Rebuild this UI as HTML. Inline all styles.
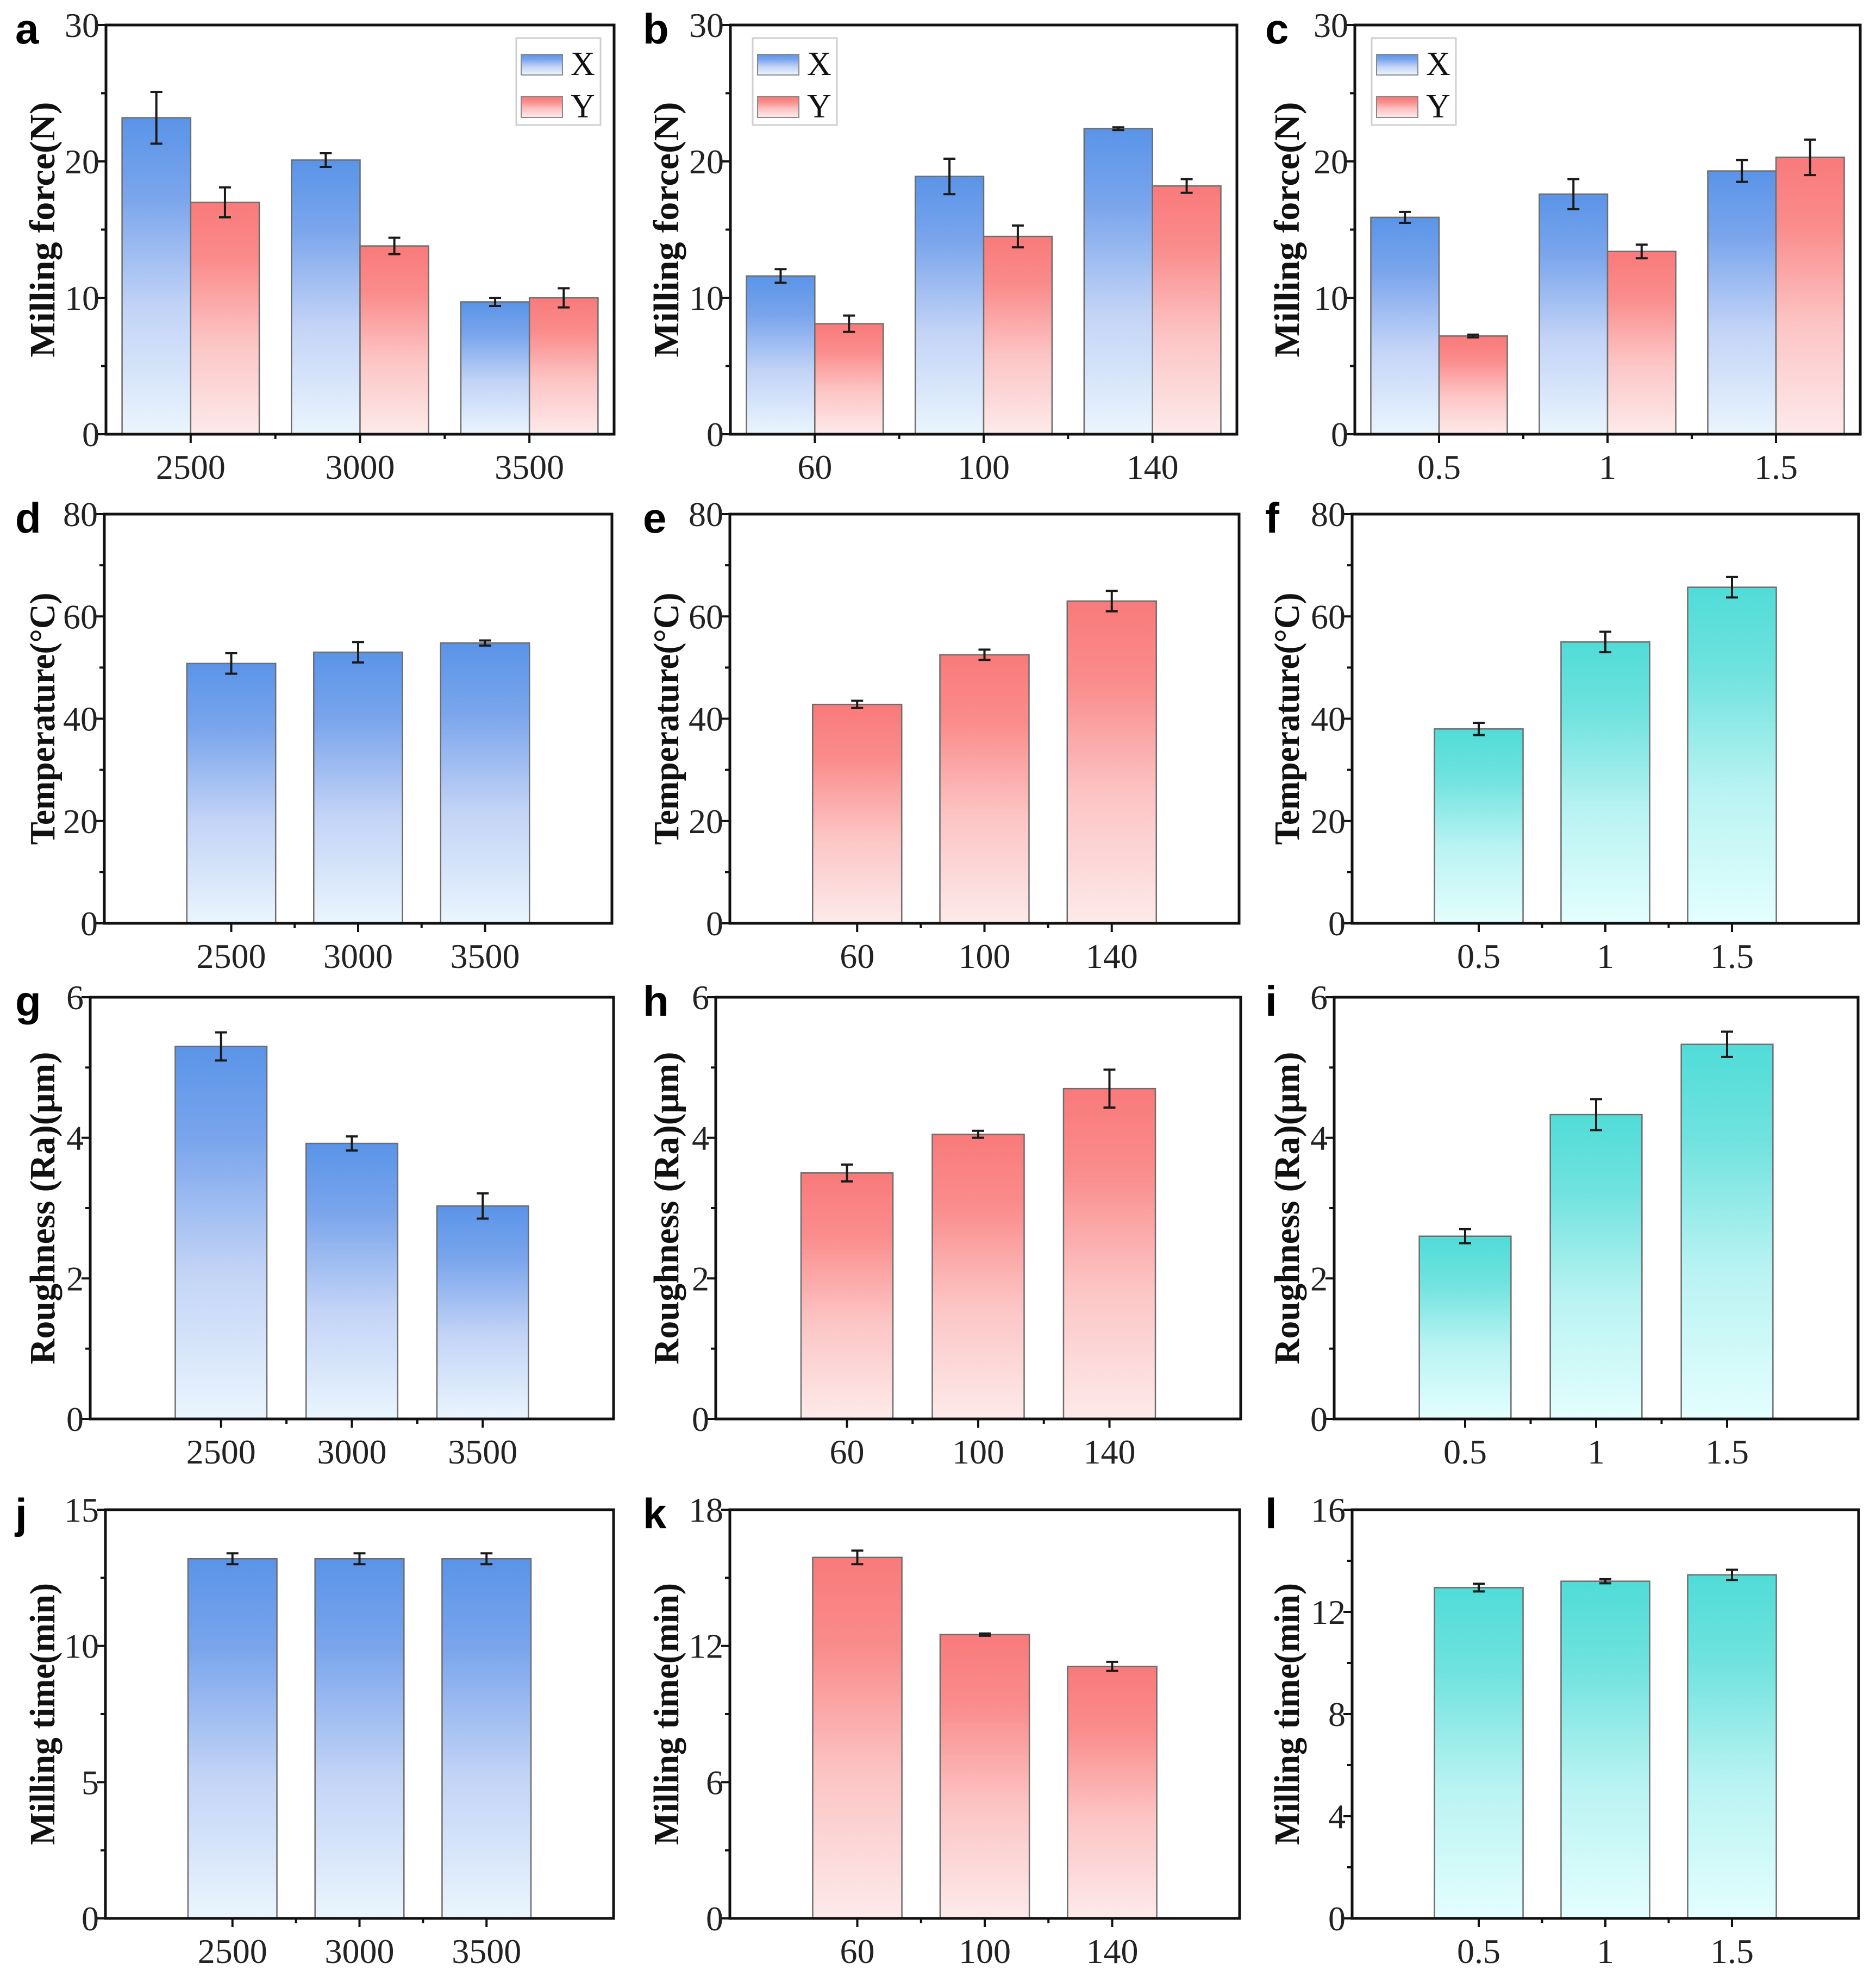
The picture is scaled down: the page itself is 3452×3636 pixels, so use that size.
<!DOCTYPE html>
<html><head><meta charset="utf-8">
<style>
html,body{margin:0;padding:0;background:#fff;}
svg{display:block;}
text{font-family:"Liberation Serif","DejaVu Serif",serif;}
</style></head>
<body>
<svg id="fig" xmlns="http://www.w3.org/2000/svg" width="3452" height="3636" viewBox="0 0 3452 3636">
<defs>
<linearGradient id="gBlue" x1="0" y1="0" x2="0" y2="1"><stop offset="0" stop-color="#5a94e8"/><stop offset="0.25" stop-color="#7aa5ec"/><stop offset="0.6" stop-color="#c2d3f6"/><stop offset="1" stop-color="#eaf5fd"/></linearGradient>
<linearGradient id="gRed" x1="0" y1="0" x2="0" y2="1"><stop offset="0" stop-color="#f97a7a"/><stop offset="0.25" stop-color="#fa8c8c"/><stop offset="0.6" stop-color="#fcc4c4"/><stop offset="1" stop-color="#fdeaea"/></linearGradient>
<linearGradient id="gCyan" x1="0" y1="0" x2="0" y2="1"><stop offset="0" stop-color="#50dcd8"/><stop offset="0.25" stop-color="#6fe2de"/><stop offset="0.6" stop-color="#b8f3f2"/><stop offset="1" stop-color="#e4fefe"/></linearGradient>
</defs>
</svg>
<script>
// ---- data ----
const speedCats=['2500','3000','3500'];
const feedCats=['60','100','140'];
const depthCats=['0.5','1','1.5'];
const aX=[23.2,20.1,9.7]; const aXErr=[1.9,0.5,0.3];
const aY=[17.0,13.8,10.0]; const aYErr=[1.1,0.6,0.7];
const bX=[11.6,18.9,22.4]; const bXErr=[0.5,1.3,0.1];
const bY=[8.1,14.5,18.2]; const bYErr=[0.6,0.8,0.5];
const cX=[15.9,17.6,19.3]; const cXErr=[0.4,1.1,0.8];
const cY=[7.2,13.4,20.3]; const cYErr=[0.1,0.5,1.3];
const dVals=[50.8,53.0,54.8]; const dErr=[2.0,2.0,0.5];
const eVals=[42.8,52.5,63.0]; const eErr=[0.7,1.0,2.0];
const fVals=[38.0,55.0,65.7]; const fErr=[1.2,2.0,2.0];
const gVals=[5.3,3.92,3.03]; const gErr=[0.2,0.1,0.18];
const hVals=[3.5,4.05,4.7]; const hErr=[0.12,0.05,0.27];
const iVals=[2.6,4.33,5.33]; const iErr=[0.1,0.22,0.18];
const jVals=[13.2,13.2,13.2]; const jErr=[0.2,0.2,0.2];
const kVals=[15.9,12.5,11.1]; const kErr=[0.3,0.05,0.2];
const lVals=[12.95,13.2,13.45]; const lErr=[0.15,0.08,0.2];
const forceTicks=[0,10,20,30];
const tempTicks=[0,20,40,60,80];
const roughTicks=[0,2,4,6];
const jTicks=[0,5,10,15];
const kTicks=[0,6,12,18];
const lTicks=[0,4,8,12,16];

// ---- layout ----
const panels=[
 {id:'a',L:195,R:1130,T:46,B:799,col:0,cats:speedCats,ticks:forceTicks,label:'Milling force(N)',labLen:470,
  series:[{v:aX,e:aXErr,f:'url(#gBlue)',n:'X'},{v:aY,e:aYErr,f:'url(#gRed)',n:'Y'}],legend:'right'},
 {id:'b',L:1344,R:2276,T:46,B:799,col:1,cats:feedCats,ticks:forceTicks,label:'Milling force(N)',labLen:470,
  series:[{v:bX,e:bXErr,f:'url(#gBlue)',n:'X'},{v:bY,e:bYErr,f:'url(#gRed)',n:'Y'}],legend:'left',lgOff:41},
 {id:'c',L:2493,R:3423,T:46,B:799,col:2,cats:depthCats,ticks:forceTicks,label:'Milling force(N)',labLen:470,
  series:[{v:cX,e:cXErr,f:'url(#gBlue)',n:'X'},{v:cY,e:cYErr,f:'url(#gRed)',n:'Y'}],legend:'left',lgOff:31},
 {id:'d',L:192,R:1126,T:946,B:1699,col:0,cats:speedCats,ticks:tempTicks,label:'Temperature(°C)',labLen:464,series:[{v:dVals,e:dErr,f:'url(#gBlue)'}]},
 {id:'e',L:1343,R:2280,T:946,B:1699,col:1,cats:feedCats,ticks:tempTicks,label:'Temperature(°C)',labLen:464,series:[{v:eVals,e:eErr,f:'url(#gRed)'}]},
 {id:'f',L:2488,R:3420,T:946,B:1699,col:2,cats:depthCats,ticks:tempTicks,label:'Temperature(°C)',labLen:464,series:[{v:fVals,e:fErr,f:'url(#gCyan)'}]},
 {id:'g',L:166,R:1129,T:1835,B:2611,col:0,cats:speedCats,ticks:roughTicks,label:'Roughness (Ra)(μm)',labLen:575,series:[{v:gVals,e:gErr,f:'url(#gBlue)'}]},
 {id:'h',L:1317,R:2283,T:1835,B:2611,col:1,cats:feedCats,ticks:roughTicks,label:'Roughness (Ra)(μm)',labLen:575,series:[{v:hVals,e:hErr,f:'url(#gRed)'}]},
 {id:'i',L:2455,R:3419,T:1835,B:2611,col:2,cats:depthCats,ticks:roughTicks,label:'Roughness (Ra)(μm)',labLen:575,series:[{v:iVals,e:iErr,f:'url(#gCyan)'}]},
 {id:'j',L:194,R:1129,T:2778,B:3530,col:0,cats:speedCats,ticks:jTicks,label:'Milling time(min)',labLen:482,series:[{v:jVals,e:jErr,f:'url(#gBlue)'}]},
 {id:'k',L:1343,R:2281,T:2778,B:3530,col:1,cats:feedCats,ticks:kTicks,label:'Milling time(min)',labLen:482,series:[{v:kVals,e:kErr,f:'url(#gRed)'}]},
 {id:'l',L:2488,R:3420,T:2778,B:3530,col:2,cats:depthCats,ticks:lTicks,label:'Milling time(min)',labLen:482,series:[{v:lVals,e:lErr,f:'url(#gCyan)'}]}
];
const labelX=[78,1226,2368];
const letterX=[28,1183,2328];

const NS='http://www.w3.org/2000/svg';
const svg=document.getElementById('fig');
function mk(tag,attrs,parent){const el=document.createElementNS(NS,tag);for(const k in attrs)el.setAttribute(k,attrs[k]);(parent||svg).appendChild(el);return el;}

panels.forEach(p=>{
  const g=mk('g',{});
  
  
  const ymax=p.ticks[p.ticks.length-1];
  const yS=v=>p.B-(v/ymax)*(p.B-p.T);
  const grouped=p.series.length>1;
  const nCat=p.cats.length;
  const dom=grouped?nCat:nCat+1;
  const xS=u=>p.L+(u/dom)*(p.R-p.L);
  const center=i=>grouped?xS(i+0.5):xS(i+1);
  const unit=(p.R-p.L)/dom;
  p.series.forEach((s,si)=>{
    s.v.forEach((v,i)=>{
      let x0,w;
      if(grouped){w=unit*0.405;x0=center(i)-w+si*w;}else{w=unit*0.7;x0=center(i)-w/2;}
      const r=mk('rect',{x:x0,y:yS(v),width:w,height:p.B-yS(v),fill:s.f,stroke:'#6d6d6d','stroke-width':2.5},g);
      
      
      const cx=x0+w/2, e=s.e[i];
      const eb=mk('path',{d:`M${cx},${yS(v-e)}V${yS(v+e)}M${cx-11},${yS(v-e)}h22M${cx-11},${yS(v+e)}h22`,stroke:'#1a1a1a','stroke-width':4,fill:'none'},g);
      
      
    });
  });
  const fr=mk('rect',{x:p.L,y:p.T,width:p.R-p.L,height:p.B-p.T,fill:'none',stroke:'#111','stroke-width':5},g);
  
  
  const step=p.ticks[1]-p.ticks[0];
  p.ticks.forEach((t,ti)=>{
    mk('line',{x1:p.L-16,x2:p.L,y1:yS(t),y2:yS(t),stroke:'#111','stroke-width':4},g);
    if(ti<p.ticks.length-1) mk('line',{x1:p.L-9,x2:p.L,y1:yS(t+step/2),y2:yS(t+step/2),stroke:'#111','stroke-width':4},g);
    const tx=mk('text',{x:p.L-12,y:yS(t)+22,'font-size':64,'text-anchor':'end',fill:'#222'},g);
    tx.textContent=t;
    
    
  });
  p.cats.forEach((c,i)=>{
    const cx=center(i);
    mk('line',{x1:cx,x2:cx,y1:p.B,y2:p.B+16,stroke:'#111','stroke-width':4},g);
    const tx=mk('text',{x:cx,y:p.B+82,'font-size':64,'text-anchor':'middle',fill:'#222'},g);
    tx.textContent=c;
    
    
  });
  for(let u=1;u<dom;u++){
    const mx=grouped?xS(u):xS(u+0.5);
    if(!grouped && u>=nCat) break;
    mk('line',{x1:mx,x2:mx,y1:p.B,y2:p.B+9,stroke:'#111','stroke-width':4},g);
  }
  const cy=(p.T+p.B)/2, lx=labelX[p.col];
  const yl=mk('text',{x:lx,y:cy,'font-size':66,'font-weight':'bold','text-anchor':'middle',transform:`rotate(-90 ${lx} ${cy})`,dy:22,fill:'#111',textLength:p.labLen,lengthAdjust:'spacingAndGlyphs'},g);
  yl.textContent=p.label;
  
  
  const pl=mk('text',{x:letterX[p.col],y:p.T+34,'font-size':78,'font-weight':'bold',fill:'#000',style:'font-family:"Liberation Sans",Arial,sans-serif'},g);
  pl.textContent=p.id;
  
  
  if(p.legend){
    const lw=155,lh=160;
    const lxp=p.legend==='right'?p.R-25-lw:p.L+p.lgOff;
    const lyp=p.T+24;
    const lg=mk('g',{},g);
    
    
    mk('rect',{x:lxp,y:lyp,width:lw,height:lh,fill:'#fff',stroke:'#cfcfcf','stroke-width':3},lg);
    p.series.forEach((s,si)=>{
      const sy=lyp+30+si*78;
      const sw=mk('rect',{x:lxp+9,y:sy,width:76,height:38,fill:s.f,stroke:'#888','stroke-width':2},lg);
      
      
      const lt=mk('text',{x:lxp+100,y:sy+38,'font-size':62,fill:'#111'},lg);
      lt.textContent=s.n;
      
      
    });
  }
});
</script>
</body></html>
